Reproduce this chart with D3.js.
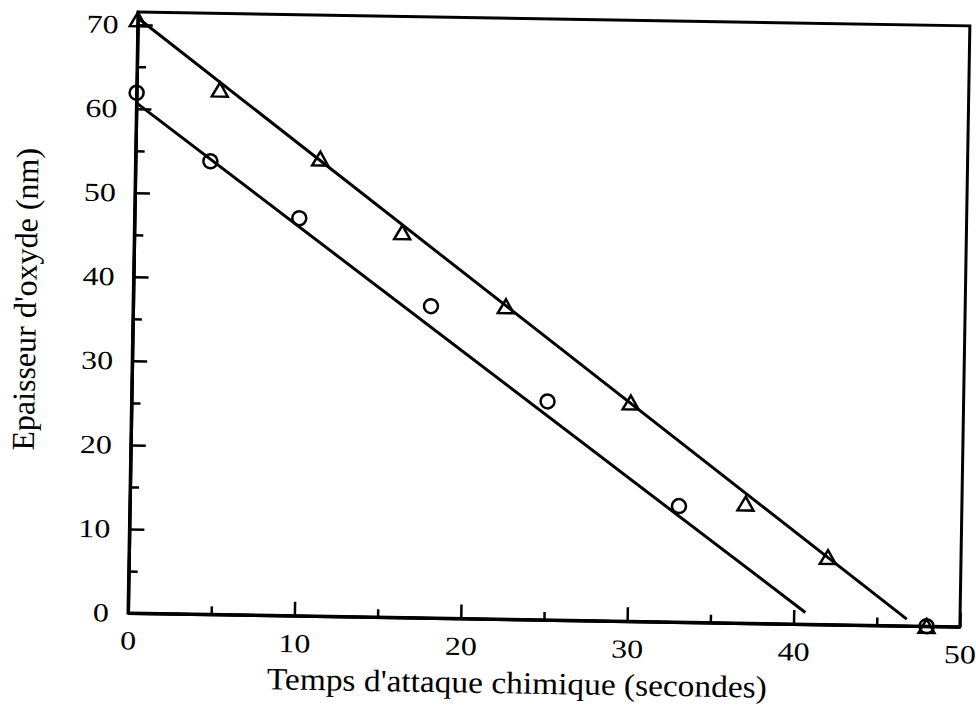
<!DOCTYPE html>
<html>
<head>
<meta charset="utf-8">
<script src="https://cdn.jsdelivr.net/npm/d3@7"></script>
<style>
  body { margin: 0; background: #fff; }
  svg { display: block; }
</style>
</head>
<body>
<div id="chart"></div>
<script>
// data
var timeTri = [0, 5.0, 11.1, 16.1, 22.4, 30.0, 37.0, 42.0, 48.0];
var thickTri = [70.6, 62.4, 54.4, 45.8, 37.2, 26.0, 14.2, 8.0, 0];
var timeCirc = [0, 4.5, 9.9, 17.9, 25.0, 33.0, 48.0];
var thickCirc = [61.9, 53.9, 47.3, 37.1, 26.0, 13.8, 0];

// fitted straight lines (end points)
var fitTriX = [0, 46.8], fitTriY = [70.8, 0.8];
var fitCircX = [0, 40.7], fitCircY = [60.7, 1.4];

var xTicks = [0, 10, 20, 30, 40, 50];
var xMinor = [5, 15, 25, 35, 45];
var yTicks = [0, 10, 20, 30, 40, 50, 60, 70];
var yMinor = [5, 15, 25, 35, 45, 55, 65];

var width = 976, height = 711;

var svg = d3.select("#chart")
    .append("svg")
        .attr("width", width)
        .attr("height", height);

// the scan is tilted by about one degree, keep that
var g = svg.append("g")
    .attr("transform", "translate(128,613) rotate(0.95)");

var x = d3.scaleLinear().domain([0, 50]).range([0, 832]);
var y = d3.scaleLinear().domain([0, 71.5]).range([0, -601]);

// frame
g.append("rect")
    .attr("x", x(0))
    .attr("y", y(71.5))
    .attr("width", x(50) - x(0))
    .attr("height", y(0) - y(71.5))
    .attr("fill", "none")
    .attr("stroke", "#000")
    .attr("stroke-width", 3);

function styleAxis(sel) {
    sel.select(".domain").attr("stroke-width", 3);
    sel.selectAll(".tick line").attr("stroke-width", 2.5);
    sel.selectAll("text")
        .attr("font-family", "'Liberation Serif', 'DejaVu Serif', serif")
        .attr("font-size", 26)
        .attr("fill", "#000")
        .attr("textLength", function(d) { return String(d).length * 16; })
        .attr("lengthAdjust", "spacingAndGlyphs");
}

// X axis
g.append("g")
    .call(d3.axisBottom(x).tickValues(xTicks).tickSizeInner(-14).tickSizeOuter(0).tickPadding(18))
    .call(styleAxis);
g.append("g")
    .call(d3.axisBottom(x).tickValues(xMinor).tickSizeInner(-8).tickSizeOuter(0).tickFormat(""))
    .call(styleAxis);

// Y axis
g.append("g")
    .call(d3.axisLeft(y).tickValues(yTicks).tickSizeInner(-15).tickSizeOuter(0).tickPadding(19))
    .call(styleAxis);
g.append("g")
    .call(d3.axisLeft(y).tickValues(yMinor).tickSizeInner(-9).tickSizeOuter(0).tickFormat(""))
    .call(styleAxis);

// fitted lines
var line = d3.line()
    .x(function(d) { return x(d[0]); })
    .y(function(d) { return y(d[1]); });

g.append("path")
    .attr("d", line(d3.zip(fitTriX, fitTriY)))
    .attr("fill", "none")
    .attr("stroke", "#000")
    .attr("stroke-width", 3);

g.append("path")
    .attr("d", line(d3.zip(fitCircX, fitCircY)))
    .attr("fill", "none")
    .attr("stroke", "#000")
    .attr("stroke-width", 3);

// circles
g.append("g")
    .selectAll("circle")
    .data(d3.zip(timeCirc, thickCirc))
    .enter().append("circle")
        .attr("cx", function(d) { return x(d[0]); })
        .attr("cy", function(d) { return y(d[1]); })
        .attr("r", 7)
        .attr("fill", "none")
        .attr("stroke", "#000")
        .attr("stroke-width", 2.5);

// triangles
g.append("g")
    .selectAll("path")
    .data(d3.zip(timeTri, thickTri))
    .enter().append("path")
        .attr("d", d3.symbol().type(d3.symbolTriangle).size(110))
        .attr("transform", function(d) { return "translate(" + x(d[0]) + "," + (y(d[1]) + 2) + ")"; })
        .attr("fill", "none")
        .attr("stroke", "#000")
        .attr("stroke-width", 2.5);

// axis titles
g.append("text")
    .attr("x", 390)
    .attr("y", 74)
    .attr("text-anchor", "middle")
    .attr("font-family", "'Liberation Serif', 'DejaVu Serif', serif")
    .attr("font-size", 31)
    .attr("textLength", 500)
    .attr("lengthAdjust", "spacingAndGlyphs")
    .text("Temps d'attaque chimique (secondes)");

g.append("text")
    .attr("transform", "translate(-97," + (-312) + ") rotate(-90)")
    .attr("text-anchor", "middle")
    .attr("font-family", "'Liberation Serif', 'DejaVu Serif', serif")
    .attr("font-size", 32)
    .text("Epaisseur d'oxyde (nm)");
</script>
</body>
</html>
